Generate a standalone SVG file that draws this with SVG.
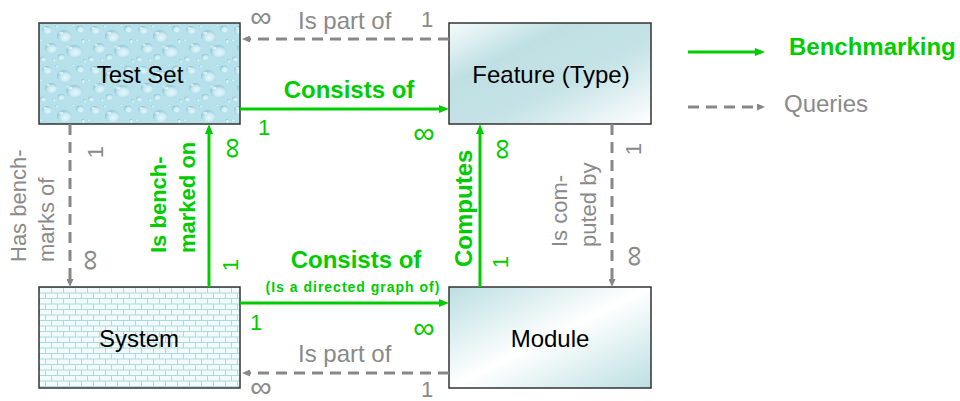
<svg xmlns="http://www.w3.org/2000/svg" width="960" height="401" viewBox="0 0 960 401">
  <style>
    .box { stroke: #333333; stroke-width: 1.5; }
    .name { font-family: "Liberation Sans", Arial, sans-serif; font-size: 24px; fill: #000000; text-anchor: middle; }
    .bench { fill: none; stroke: #00cc00; stroke-width: 3; }
    .query { fill: none; stroke: #888888; stroke-width: 3; stroke-dasharray: 11 7; }
    .gl { font-family: "Liberation Sans", Arial, sans-serif; font-weight: bold; fill: #00cc00; }
    .ql { font-family: "Liberation Sans", Arial, sans-serif; fill: #8a8a8a; }
    .big { font-size: 24px; }
    .mid { font-size: 22px; }
    .card { font-size: 22px; text-anchor: middle; font-weight: normal; }
    .inf { font-size: 30px; text-anchor: middle; font-weight: normal; }
  </style>
  <defs>
    <marker id="arrowGreen" markerUnits="userSpaceOnUse" markerWidth="10" markerHeight="8" refX="4" refY="4" orient="auto">
      <path d="M0,0 L10,4 L0,8 z" fill="#00cc00"/>
    </marker>
    <marker id="arrowGray" markerUnits="userSpaceOnUse" markerWidth="8" markerHeight="7" refX="3" refY="3.5" orient="auto">
      <path d="M0,0 L8,3.5 L0,7 z" fill="#888888"/>
    </marker>

    <!-- water droplet texture -->
    <radialGradient id="drop" cx="0.6" cy="0.65" r="0.6">
      <stop offset="0" stop-color="#e6f7fb"/>
      <stop offset="0.6" stop-color="#c6e9f1"/>
      <stop offset="1" stop-color="#93cad8"/>
    </radialGradient>
    <pattern id="water" patternUnits="userSpaceOnUse" x="39" y="23" width="48" height="40">
      <rect width="48" height="40" fill="#b6e0ea"/>
      <g fill="url(#drop)">
        <ellipse cx="8" cy="7" rx="5" ry="4"/>
        <ellipse cx="25" cy="13" rx="7" ry="6"/>
        <ellipse cx="41" cy="6" rx="4" ry="3.5"/>
        <ellipse cx="12" cy="25" rx="6" ry="5"/>
        <ellipse cx="35" cy="28" rx="8" ry="6"/>
        <ellipse cx="4" cy="36" rx="3" ry="2.5"/>
        <ellipse cx="22" cy="34" rx="3.5" ry="3"/>
        <circle cx="44" cy="18" r="2"/>
        <circle cx="18" cy="3" r="1.6"/>
        <circle cx="46" cy="38" r="1.8"/>
        <circle cx="2" cy="17" r="1.5"/>
        <circle cx="28" cy="23" r="1.3"/>
        <circle cx="15" cy="37" r="1.4"/>
        <circle cx="34" cy="2" r="1.2"/>
      </g>
      <g fill="#ffffff" opacity="0.6">
        <ellipse cx="22" cy="10" rx="2.2" ry="1.3"/>
        <ellipse cx="31" cy="25" rx="2.5" ry="1.4"/>
        <ellipse cx="9" cy="22" rx="1.8" ry="1.1"/>
        <ellipse cx="6" cy="5" rx="1.5" ry="0.9"/>
      </g>
    </pattern>

    <!-- brick texture -->
    <pattern id="bricks" patternUnits="userSpaceOnUse" x="39" y="287" width="12" height="11">
      <rect width="12" height="11" fill="#f2fafb"/>
      <path d="M0,0.5 H12 M0,6 H12 M0.5,0.5 V6 M6.5,6 V11" stroke="#a8dbe0" stroke-width="1" fill="none"/>
    </pattern>

    <linearGradient id="featureFill" x1="0" y1="0" x2="1" y2="1">
      <stop offset="0" stop-color="#f6fbfc"/>
      <stop offset="0.3" stop-color="#bfe0e3"/>
      <stop offset="0.6" stop-color="#c6e3e6"/>
      <stop offset="1" stop-color="#ffffff"/>
    </linearGradient>
    <linearGradient id="moduleFill" x1="0" y1="0" x2="1" y2="1">
      <stop offset="0" stop-color="#bcdfe2"/>
      <stop offset="0.5" stop-color="#ffffff"/>
      <stop offset="1" stop-color="#bcdfe2"/>
    </linearGradient>
  </defs>

  <rect width="960" height="401" fill="#ffffff"/>

  <!-- nodes -->
  <g id="test-set">
    <rect class="box" x="39" y="23" width="201" height="101" fill="url(#water)"/>
    <text class="name" x="140" y="83">Test Set</text>
  </g>
  <g id="feature">
    <rect class="box" x="449" y="23" width="202" height="101" fill="url(#featureFill)"/>
    <text class="name" x="551" y="83">Feature (Type)</text>
  </g>
  <g id="system">
    <rect class="box" x="39" y="287" width="201" height="101" fill="url(#bricks)"/>
    <text class="name" x="139" y="347">System</text>
  </g>
  <g id="module">
    <rect class="box" x="449" y="287" width="202" height="101" fill="url(#moduleFill)"/>
    <text class="name" x="550" y="347">Module</text>
  </g>

  <!-- connectors -->
  <g id="connectors">
    <!-- Feature is part of Test Set -->
    <line class="query" x1="449" y1="39" x2="247" y2="39" marker-end="url(#arrowGray)"/>
    <!-- Test Set consists of Feature -->
    <line class="bench" x1="240" y1="109" x2="443" y2="109" marker-end="url(#arrowGreen)"/>
    <!-- System is benchmarked on Test Set -->
    <line class="bench" x1="209" y1="287" x2="209" y2="130" marker-end="url(#arrowGreen)"/>
    <!-- Test Set has benchmarks of System -->
    <line class="query" x1="70" y1="124" x2="70" y2="282" marker-end="url(#arrowGray)"/>
    <!-- Module computes Feature -->
    <line class="bench" x1="480" y1="287" x2="480" y2="130" marker-end="url(#arrowGreen)"/>
    <!-- Feature is computed by Module -->
    <line class="query" x1="612" y1="124" x2="612" y2="282" marker-end="url(#arrowGray)"/>
    <!-- System consists of Module -->
    <line class="bench" x1="240" y1="303" x2="443" y2="303" marker-end="url(#arrowGreen)"/>
    <!-- Module is part of System -->
    <line class="query" x1="449" y1="373" x2="247" y2="373" marker-end="url(#arrowGray)"/>
  </g>

  <!-- connector labels -->
  <g id="labels">
    <text class="ql big" x="298" y="29">Is part of</text>
    <text class="ql inf" x="261" y="27">∞</text>
    <text class="ql card" x="427" y="27">1</text>

    <text class="gl big" x="349" y="98" text-anchor="middle">Consists of</text>
    <text class="gl card" x="264" y="135">1</text>
    <text class="gl inf" x="424" y="143">∞</text>

    <text class="ql mid" transform="translate(26,262) rotate(-90)">Has bench-</text>
    <text class="ql mid" transform="translate(54,262) rotate(-90)">marks of</text>
    <text class="ql card" transform="translate(95,152) rotate(-90)" y="8">1</text>
    <text class="ql inf" transform="translate(89,260) rotate(-90)" y="10">∞</text>

    <text class="gl mid" transform="translate(166,253) rotate(-90)">Is bench-</text>
    <text class="gl mid" transform="translate(195,253) rotate(-90)">marked on</text>
    <text class="gl inf" transform="translate(231,148) rotate(-90)" y="10">∞</text>
    <text class="gl card" transform="translate(230,265) rotate(-90)" y="8">1</text>

    <text class="gl big" transform="translate(472,267) rotate(-90)">Computes</text>
    <text class="gl inf" transform="translate(501,149) rotate(-90)" y="10">∞</text>
    <text class="gl card" transform="translate(500,262) rotate(-90)" y="8">1</text>

    <text class="ql mid" transform="translate(567,247) rotate(-90)">Is com-</text>
    <text class="ql mid" transform="translate(596,247) rotate(-90)">puted by</text>
    <text class="ql card" transform="translate(633,149) rotate(-90)" y="8">1</text>
    <text class="ql inf" transform="translate(633,256) rotate(-90)" y="10">∞</text>

    <text class="gl big" x="356" y="268" text-anchor="middle">Consists of</text>
    <text class="gl" x="353" y="292" font-size="14" letter-spacing="1" text-anchor="middle">(Is a directed graph of)</text>
    <text class="gl card" x="256" y="330">1</text>
    <text class="gl inf" x="424" y="338">∞</text>

    <text class="ql big" x="298" y="362">Is part of</text>
    <text class="ql card" x="427" y="397">1</text>
    <text class="ql inf" x="261" y="397">∞</text>
  </g>

  <!-- legend -->
  <g id="legend">
    <line class="bench" x1="688" y1="52" x2="759" y2="52" marker-end="url(#arrowGreen)"/>
    <text class="gl" x="789" y="55" font-size="24">Benchmarking</text>
    <line class="query" x1="688" y1="107" x2="760" y2="107" marker-end="url(#arrowGray)"/>
    <text class="ql big" x="784" y="112">Queries</text>
  </g>
</svg>
